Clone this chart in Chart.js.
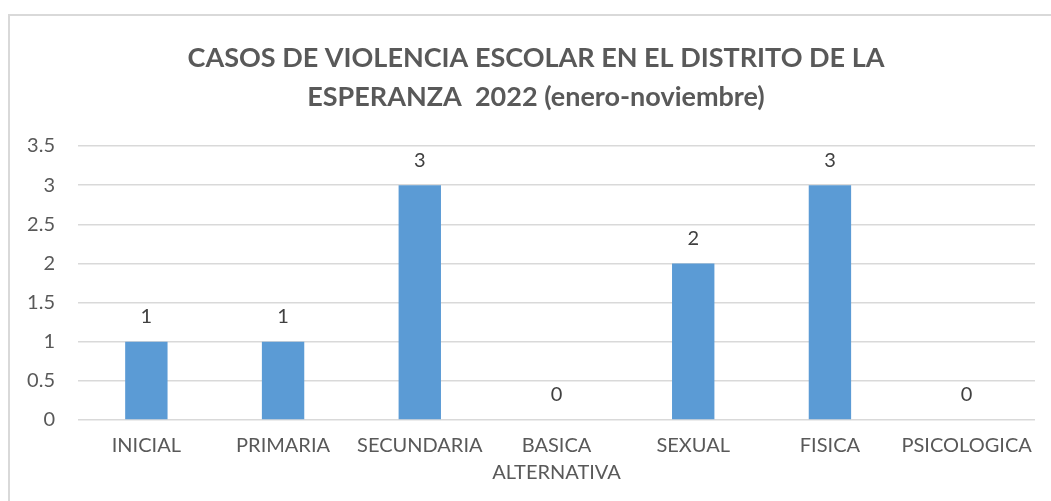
<!doctype html>
<html>

<head>
    <title>Casos de violencia escolar</title>
    <script src="https://cdn.jsdelivr.net/npm/chart.js"></script>
</head>

<body style="margin:0; background-color:#fff; width:1051px; height:501px; overflow:hidden; position:relative;">

    <div style="position:absolute; left:8px; top:14px; width:1060px; height:500px; border-left:2px solid #d9d9d9; border-top:2px solid #d9d9d9;"></div>
    <canvas id="casos" style="position:absolute; left:0; top:0;"></canvas>

    <script>
        var titulo = ['CASOS DE VIOLENCIA ESCOLAR EN EL DISTRITO DE LA', 'ESPERANZA  2022 (enero-noviembre)'];
        var categorias = ['INICIAL', 'PRIMARIA', 'SECUNDARIA', ['BASICA', 'ALTERNATIVA'], 'SEXUAL', 'FISICA', 'PSICOLOGICA'];
        var casos = [1, 1, 3, 0, 2, 3, 0];
        var marcasY = [0, 0.5, 1, 1.5, 2, 2.5, 3, 3.5];

        var fuente = 'Lato, "Open Sans", sans-serif';

        // titulo en dos lineas, centrado sobre el marco
        var pluginTitulo = {
            id: 'tituloExcel',
            afterDraw(chart) {
                var ctx = chart.ctx;
                ctx.save();
                ctx.fillStyle = '#595959';
                ctx.font = 'bold 27px ' + fuente;
                ctx.textAlign = 'center';
                ctx.textBaseline = 'middle';
                ctx.fillText(titulo[0], 536, 58);
                ctx.fillText(titulo[1], 536, 97);
                ctx.restore();
            }
        };

        // etiquetas de valor encima de cada barra
        var pluginEtiquetas = {
            id: 'etiquetas',
            afterDatasetsDraw(chart) {
                var ctx = chart.ctx;
                var meta = chart.getDatasetMeta(0);
                ctx.save();
                ctx.fillStyle = '#404040';
                ctx.font = '20px ' + fuente;
                ctx.textAlign = 'center';
                ctx.textBaseline = 'middle';
                meta.data.forEach(function (barra, i) {
                    ctx.fillText(String(casos[i]), barra.x, barra.y - 25);
                });
                ctx.restore();
            }
        };

        var canvas = document.getElementById('casos');
        canvas.width = 1051;
        canvas.height = 501;

        new Chart(canvas.getContext('2d'), {
            type: 'bar',
            data: {
                labels: categorias,
                datasets: [{
                    data: casos,
                    backgroundColor: '#5b9bd5',
                    barPercentage: 0.31,
                    categoryPercentage: 1
                }]
            },
            options: {
                responsive: false,
                animation: false,
                layout: {
                    padding: { top: 146, right: 16, left: 0, bottom: 0 }
                },
                plugins: {
                    legend: { display: false },
                    tooltip: { enabled: false },
                    title: { display: false }
                },
                scales: {
                    x: {
                        grid: { display: false, drawTicks: false },
                        border: { display: false },
                        ticks: {
                            color: '#595959',
                            padding: 12,
                            maxRotation: 0,
                            autoSkip: false,
                            font: { family: fuente, size: 20, lineHeight: 1.35 }
                        },
                        afterFit: function (escala) { escala.height = 81; }
                    },
                    y: {
                        min: 0,
                        max: 3.5,
                        afterBuildTicks: function (escala) {
                            escala.ticks = marcasY.map(function (v) { return { value: v }; });
                        },
                        grid: { color: '#d9d9d9', lineWidth: 1.5, drawTicks: false },
                        border: { display: false },
                        ticks: {
                            color: '#595959',
                            padding: 23,
                            font: { family: fuente, size: 20 },
                            callback: function (v) { return String(v); }
                        },
                        afterFit: function (escala) { escala.width = 78; }
                    }
                }
            },
            plugins: [pluginTitulo, pluginEtiquetas]
        });
    </script>
</body>

</html>
